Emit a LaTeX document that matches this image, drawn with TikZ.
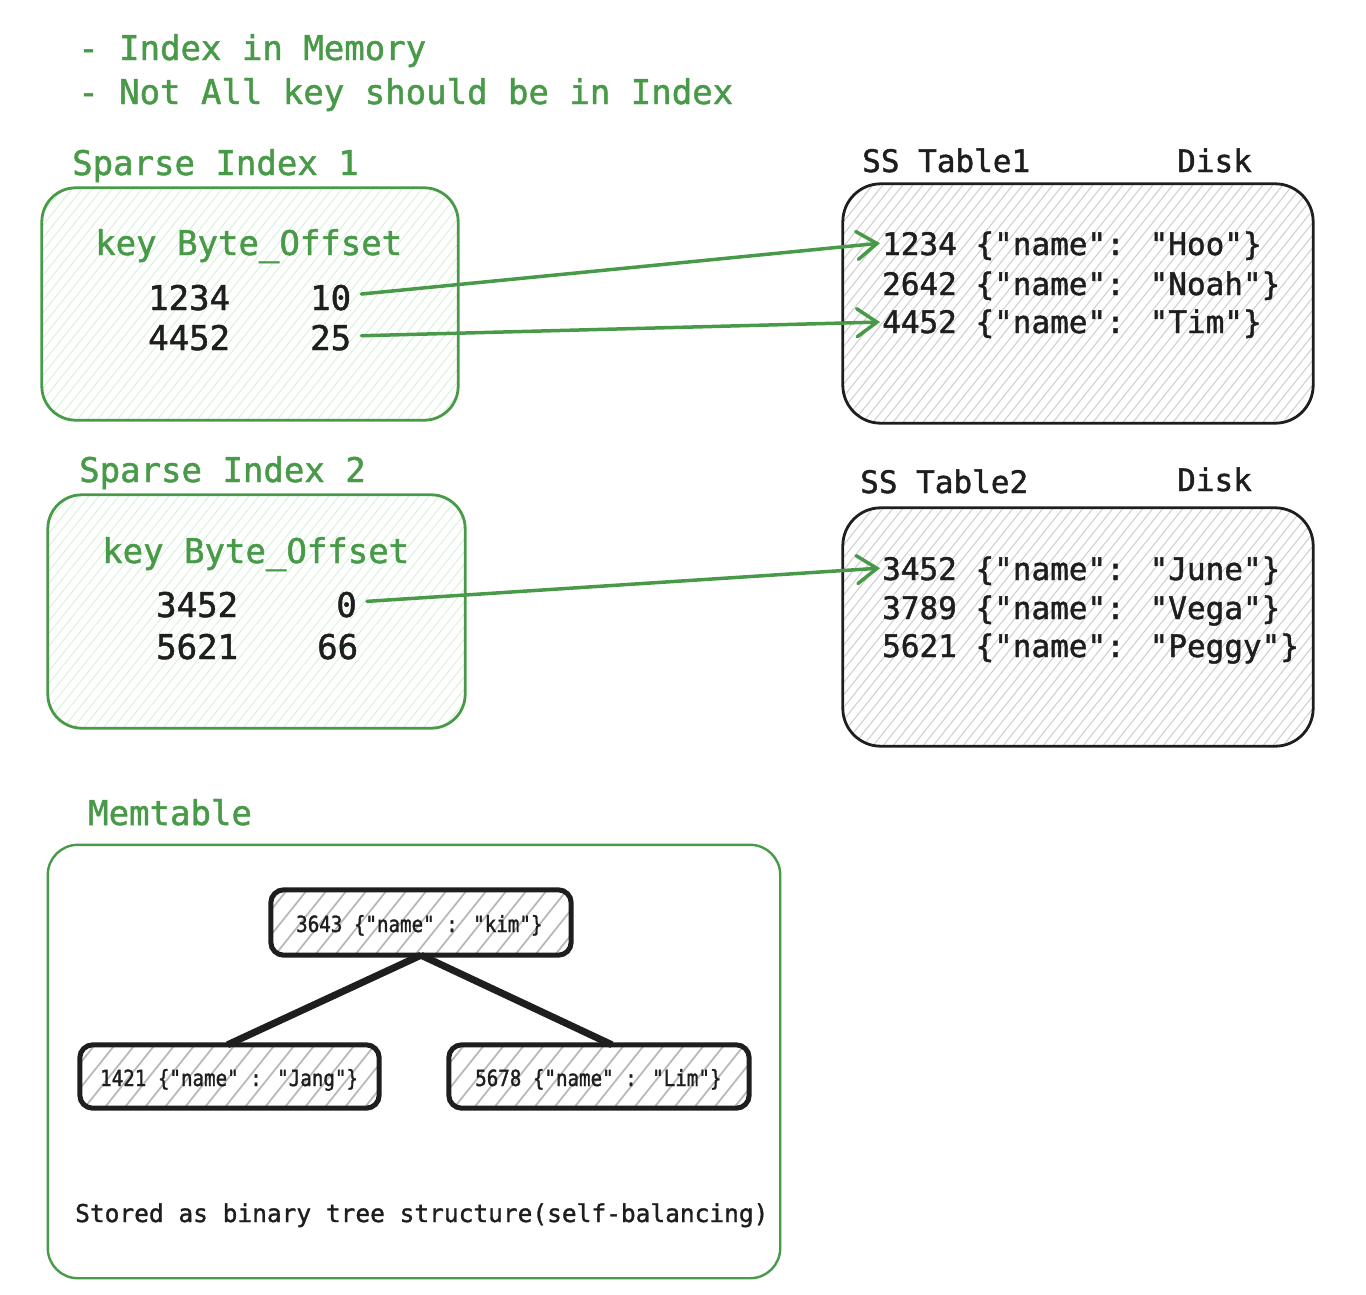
\documentclass[tikz,border=0pt]{standalone}
\usepackage{fontspec}
\newfontfamily\mono[FakeBold=1.4]{DejaVu Sans Mono}
\newfontfamily\monon[FakeBold=1.4,FakeStretch=0.86]{DejaVu Sans Mono}
\usetikzlibrary{arrows.meta}
\definecolor{gr}{RGB}{72,154,72}
\definecolor{ink}{RGB}{30,30,30}
\definecolor{lgr}{RGB}{214,240,214}
\definecolor{lgray}{RGB}{205,205,205}
\definecolor{tgray}{RGB}{185,185,185}
\newcommand\hatchnode[6]{% name, colour, spacing, width, radius, count
  \begin{scope}
    \clip[rounded corners=#5] (#1.south west) rectangle (#1.north east);
    \foreach \i in {0,...,#6}{
      \draw[#2,line width=#4] ([xshift={\i*#3 pt-800pt},yshift=-250pt]#1.center) -- ++(400,-500);}
  \end{scope}}
\tikzset{
  greenbox/.style={draw=gr,line width=2.8pt,rounded corners=34pt,inner sep=0pt},
  diskbox/.style={draw=ink,line width=2.8pt,rounded corners=38pt,inner sep=0pt},
  treebox/.style={draw=ink,line width=5pt,rounded corners=13pt,inner sep=0pt},
  tbig/.style={inner sep=0pt,anchor=base west,font=\mono\fontsize{34}{40}\selectfont},
  tmid/.style={inner sep=0pt,anchor=base west,font=\mono\fontsize{31}{37}\selectfont,text=ink},
  tsmall/.style={inner sep=0pt,anchor=base west,font=\monon\fontsize{22.3}{26}\selectfont,text=ink},
  tnote/.style={inner sep=0pt,anchor=base west,font=\mono\fontsize{24.5}{29}\selectfont,text=ink},
  arr/.style={draw=gr,line width=3.5pt,line cap=round,line join=round,-{Straight Barb[length=20pt,width=28pt,line cap=round]},shorten <=10pt,shorten >=2pt},
  edge/.style={draw=ink,line width=7pt}
}
\begin{document}
\begin{tikzpicture}[x=1pt,y=-1pt]
\useasboundingbox (0,0) rectangle (1366,1294);
% box shapes (named), hatching, then outlines
\path node[inner sep=0pt,minimum width=416pt,minimum height=232pt] (sp1) at (250,304) {}
      node[inner sep=0pt,minimum width=417pt,minimum height=233pt] (sp2) at (256.5,611.5) {}
      node[inner sep=0pt,minimum width=470pt,minimum height=239pt] (ss1) at (1078,303.5) {}
      node[inner sep=0pt,minimum width=470pt,minimum height=238pt] (ss2) at (1078,627) {}
      node[inner sep=0pt,minimum width=300pt,minimum height=65pt] (root) at (421,922.5) {}
      node[inner sep=0pt,minimum width=299pt,minimum height=63pt] (left) at (229.5,1076.5) {}
      node[inner sep=0pt,minimum width=300pt,minimum height=63pt] (right) at (599,1076.5) {}
      node[inner sep=0pt,minimum width=732pt,minimum height=433pt] (mem) at (414,1061.5) {};
\hatchnode{sp1}{lgr}{10}{0.9pt}{34pt}{120}
\hatchnode{sp2}{lgr}{10}{0.9pt}{34pt}{120}
\hatchnode{ss1}{lgray}{10}{1pt}{38pt}{120}
\hatchnode{ss2}{lgray}{10}{1pt}{38pt}{120}
\hatchnode{root}{tgray}{20}{1.8pt}{13pt}{60}
\hatchnode{left}{tgray}{20}{1.8pt}{13pt}{60}
\hatchnode{right}{tgray}{20}{1.8pt}{13pt}{60}
\draw[greenbox] (sp1.south west) rectangle (sp1.north east);
\draw[greenbox] (sp2.south west) rectangle (sp2.north east);
\draw[diskbox] (ss1.south west) rectangle (ss1.north east);
\draw[diskbox] (ss2.south west) rectangle (ss2.north east);
\draw[greenbox,line width=2.4pt,rounded corners=30pt] (mem.south west) rectangle (mem.north east);
\draw[treebox] (root.south west) rectangle (root.north east);
\draw[treebox] (left.south west) rectangle (left.north east);
\draw[treebox] (right.south west) rectangle (right.north east);
% header notes
\node[tbig,text=gr] (n1) at (78,60) {- Index in Memory};
\node[tbig,text=gr] (n2) at (78,104) {- Not All key should be in Index};
% sparse index 1
\node[tbig,text=gr] (sp1t) at (72,175) {Sparse Index 1};
\node[tbig,text=gr] (sp1h) at (95,255) {key Byte\_Offset};
\node[tbig,text=ink] (k11) at (148,310) {1234};
\node[tbig,text=ink] (o11) at (310,310) {10};
\node[tbig,text=ink] (k12) at (148,350) {4452};
\node[tbig,text=ink] (o12) at (310,350) {25};
% sparse index 2
\node[tbig,text=gr] (sp2t) at (79,482) {Sparse Index 2};
\node[tbig,text=gr] (sp2h) at (102,563) {key Byte\_Offset};
\node[tbig,text=ink] (k21) at (156,617) {3452};
\node[tbig,text=ink,anchor=base east] (o21) at (357,617) {0};
\node[tbig,text=ink] (k22) at (156,659) {5621};
\node[tbig,text=ink] (o22) at (317,659) {66};
% SS table 1
\node[tmid] (ss1t) at (862,172) {SS Table1};
\node[tmid] (ss1d) at (1177,172) {Disk};
\node[tmid] (r11) at (882,255) {1234 \{"name": "Hoo"\}};
\node[tmid] (r12) at (882,295) {2642 \{"name": "Noah"\}};
\node[tmid] (r13) at (882,333) {4452 \{"name": "Tim"\}};
% SS table 2
\node[tmid] (ss2t) at (860,493) {SS Table2};
\node[tmid] (ss2d) at (1177,491) {Disk};
\node[tmid] (r21) at (882,580) {3452 \{"name": "June"\}};
\node[tmid] (r22) at (882,619) {3789 \{"name": "Vega"\}};
\node[tmid] (r23) at (882,657) {5621 \{"name": "Peggy"\}};
% memtable
\node[tbig,text=gr] (memt) at (88,825) {Memtable};
\node[tsmall] (roott) at (296,932) {3643 \{"name" : "kim"\}};
\node[tsmall] (leftt) at (100,1086) {1421 \{"name" : "Jang"\}};
\node[tsmall] (rightt) at (475,1086) {5678 \{"name" : "Lim"\}};
\node[tnote] (note) at (75,1222) {Stored as binary tree structure(self-balancing)};
% connectors
\draw[edge] (root.south) -- ([xshift=-2pt]left.north);
\draw[edge] (root.south) -- ([xshift=13pt]right.north);
\draw[arr] ([yshift=15pt]o11.base east) -- ([yshift=12pt]r11.base west);
\draw[arr] ([yshift=14pt]o12.base east) -- ([yshift=11pt]r13.base west);
\draw[arr] ([yshift=15pt]o21.base east) -- ([yshift=12pt]r21.base west);
\end{tikzpicture}
\end{document}
